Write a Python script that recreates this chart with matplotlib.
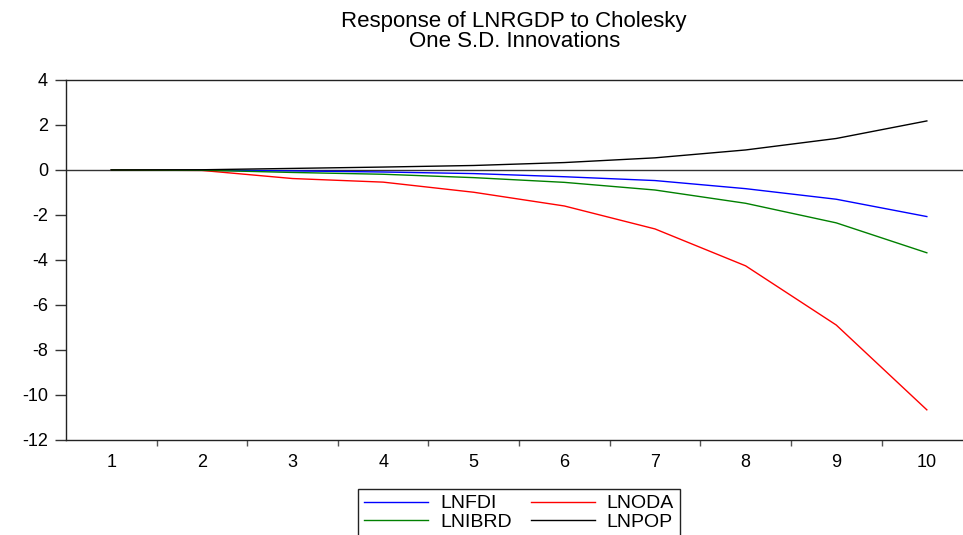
"""
脉冲响应图: Response of LNRGDP to Cholesky One S.D. Innovations
"""
import matplotlib
matplotlib.use('Agg')
import matplotlib.pyplot as plt
import numpy as np

# 期数
periods = [1, 2, 3, 4, 5, 6, 7, 8, 9, 10]

# 各变量的冲击响应值
lnfdi = [0.0, -0.01, -0.04, -0.09, -0.16, -0.30, -0.47, -0.83, -1.30, -2.07]
lnoda = [0.0, -0.02, -0.38, -0.54, -0.99, -1.60, -2.62, -4.26, -6.89, -10.66]
lnibrd = [0.0, -0.01, -0.11, -0.19, -0.34, -0.55, -0.89, -1.48, -2.35, -3.68]
lnpop = [0.0, 0.01, 0.07, 0.13, 0.20, 0.33, 0.54, 0.89, 1.40, 2.18]

y_ticks = [4, 2, 0, -2, -4, -6, -8, -10, -12]
title_lines = ['Response of LNRGDP to Cholesky', 'One S.D. Innovations']

plt.rcParams['font.family'] = ['Liberation Sans', 'DejaVu Sans']
plt.rcParams['axes.unicode_minus'] = False  # 原图用普通连字符

fig = plt.figure(figsize=(9.63, 5.35), dpi=100)
# 右边框超出画布, 和原图一样被裁掉
ax = fig.add_axes([0.0685, 0.1776, 0.941, 0.6729])

l_fdi, = ax.plot(periods, lnfdi, color='#0000FF', lw=1.0, label='LNFDI')
l_oda, = ax.plot(periods, lnoda, color='#FF0000', lw=1.0, label='LNODA')
l_ibrd, = ax.plot(periods, lnibrd, color='#008000', lw=1.0, label='LNIBRD')
l_pop, = ax.plot(periods, lnpop, color='black', lw=1.0, label='LNPOP')
ax.axhline(0, color='#333333', lw=1.0, zorder=1)

ax.set_xlim(0.5, 10.5)
ax.set_ylim(-12, 4)
ax.set_yticks(y_ticks)
ax.set_xticks(periods)
ax.set_xticks(np.arange(1.5, 10.5, 1.0), minor=True)

ax.tick_params(axis='y', direction='out', length=8, width=1, color='#333333',
               labelsize=13, pad=5)
ax.tick_params(axis='x', which='major', length=0, labelsize=13, pad=10)
ax.tick_params(axis='x', which='minor', direction='out', length=4.5, width=1,
               color='#555555')

for side in ['left', 'top', 'bottom', 'right']:
    ax.spines[side].set_color('#222222')
    ax.spines[side].set_linewidth(1.0)

fig.text(0.534, 1 - 11 / 535, '\n'.join(title_lines), ha='center', va='top',
         fontsize=16, linespacing=0.92)

leg = ax.legend(handles=[l_fdi, l_ibrd, l_oda, l_pop], ncol=2,
                loc='upper center', bbox_to_anchor=(0.539, 1 - 489 / 535),
                bbox_transform=fig.transFigure, fontsize=14, frameon=True,
                fancybox=False, edgecolor='#222222', framealpha=1,
                handlelength=3.3, handletextpad=0.6, columnspacing=1.0,
                labelspacing=0.05, borderpad=0.3, borderaxespad=0)
leg.get_frame().set_linewidth(1.0)

plt.savefig('out.png', dpi=100)
